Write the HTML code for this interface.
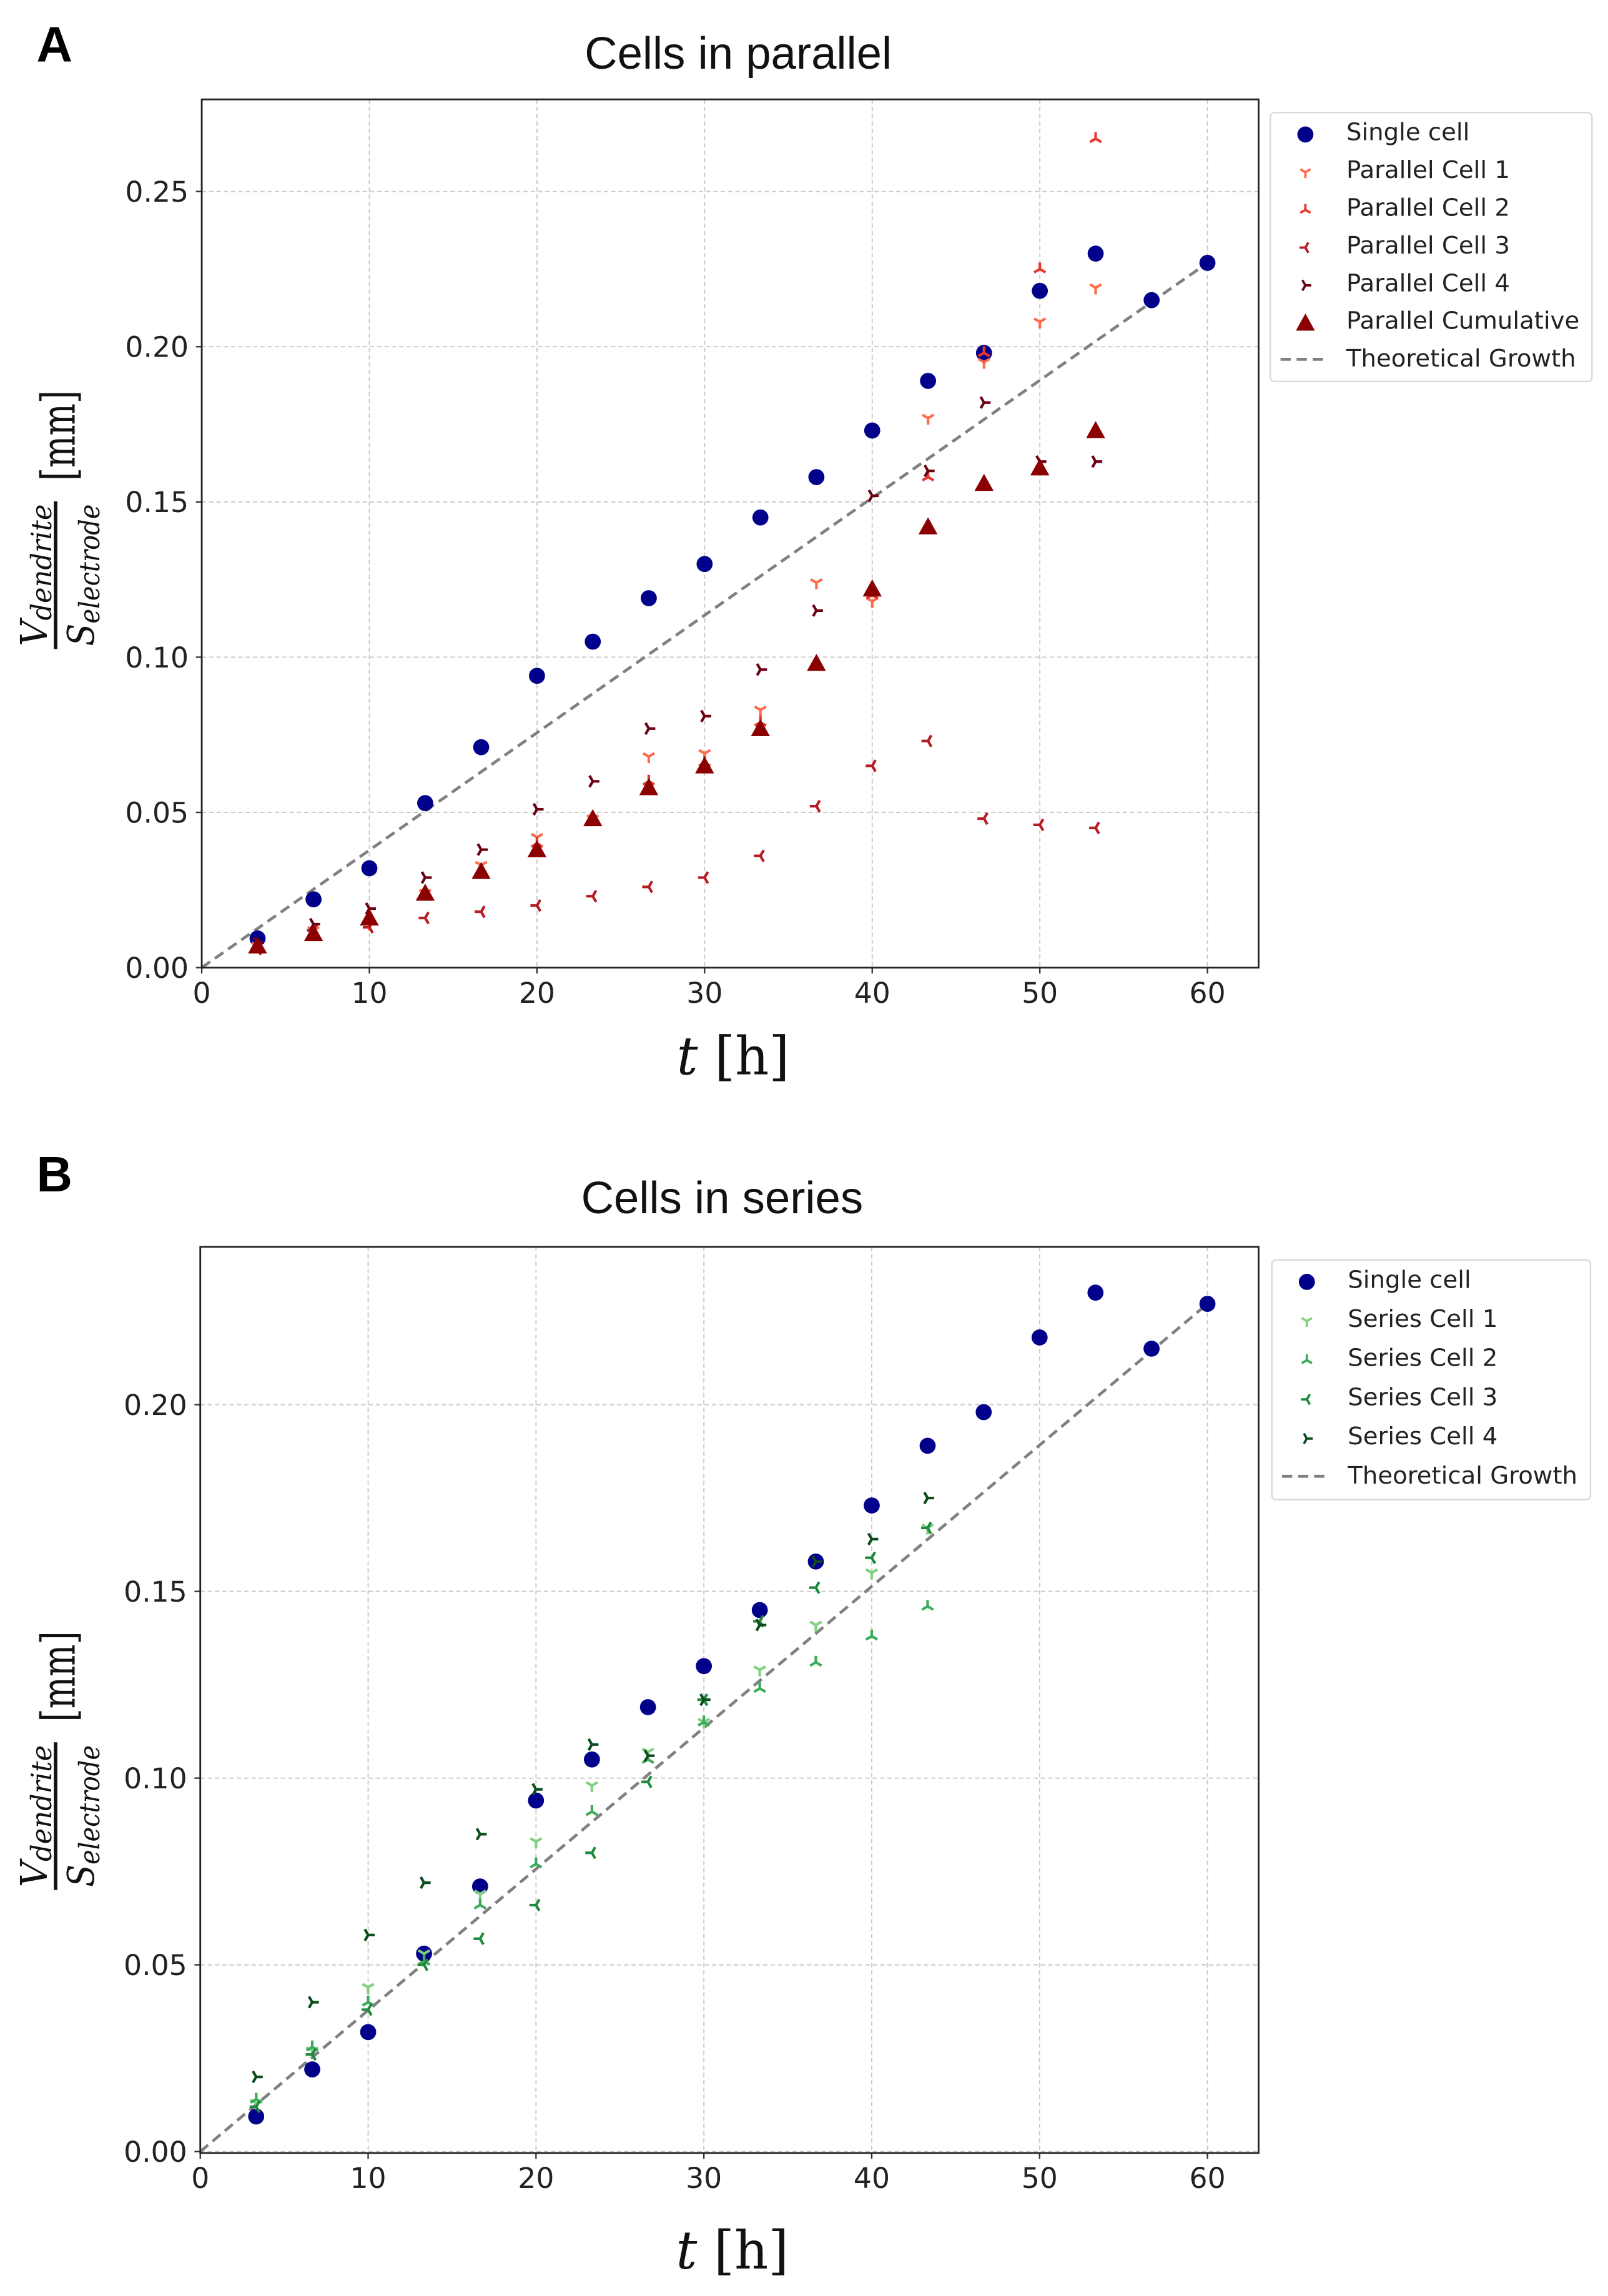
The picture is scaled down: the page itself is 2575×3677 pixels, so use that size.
<!DOCTYPE html>
<html><head><meta charset="utf-8">
<style>
html,body{margin:0;padding:0;background:#fff;}
svg{display:block;}
.tick{font-family:"DejaVu Sans","Liberation Sans",sans-serif;font-size:19.5px;fill:#222;}
.leg{font-family:"DejaVu Sans","Liberation Sans",sans-serif;font-size:16.5px;fill:#222;}
.title{font-family:"Liberation Sans",sans-serif;font-size:31px;fill:#111;}
.serif{font-family:"DejaVu Serif","Liberation Serif",serif;fill:#111;}
</style></head>
<body>
<svg id="fig" width="2575" height="3677" viewBox="0 0 1100 1570.8" xmlns="http://www.w3.org/2000/svg">
<rect width="1100" height="1571" fill="#fff"/>
<text x="25" y="42" font-family="Liberation Sans,sans-serif" font-weight="bold" font-size="34">A</text>
<text x="25" y="815" font-family="Liberation Sans,sans-serif" font-weight="bold" font-size="34">B</text>
<text class="title" x="505" y="47" text-anchor="middle">Cells in parallel</text>
<text class="title" x="494" y="830" text-anchor="middle">Cells in series</text>
<g id="pa"></g>
<g id="pb"></g>
</svg>
<script>
const times = [3.33,6.67,10,13.33,16.67,20,23.33,26.67,30,33.33,36.67,40,43.33,46.67,50,53.33,56.67,60];
const singleCell = [0.0094,0.022,0.032,0.053,0.071,0.094,0.105,0.119,0.130,0.145,0.158,0.173,0.189,0.198,0.218,0.230,0.215,0.227];
const parCell1 = [0.007,0.012,0.014,0.024,0.033,0.042,0.048,0.068,0.069,0.083,0.124,0.118,0.177,0.195,0.208,0.219];
const parCell2 = [0.007,0.011,0.016,0.024,0.031,0.040,0.047,0.060,0.066,0.079,0.098,0.120,0.158,0.198,0.225,0.267];
const parCell3 = [0.006,0.012,0.013,0.016,0.018,0.020,0.023,0.026,0.029,0.036,0.052,0.065,0.073,0.048,0.046,0.045];
const parCell4 = [0.008,0.014,0.019,0.029,0.038,0.051,0.060,0.077,0.081,0.096,0.115,0.152,0.160,0.182,0.163,0.163];
const parCumulative = [0.007,0.011,0.016,0.024,0.031,0.038,0.048,0.058,0.065,0.077,0.098,0.122,0.142,0.156,0.161,0.173];
const serCell1 = [0.013,0.027,0.044,0.053,0.069,0.083,0.098,0.107,0.115,0.129,0.141,0.155,0.167];
const serCell2 = [0.014,0.028,0.040,0.051,0.066,0.077,0.091,0.105,0.115,0.124,0.131,0.138,0.146];
const serCell3 = [0.012,0.026,0.038,0.050,0.057,0.066,0.080,0.099,0.121,0.142,0.151,0.159,0.167];
const serCell4 = [0.020,0.040,0.058,0.072,0.085,0.097,0.109,0.106,0.121,0.141,0.158,0.164,0.175];
const theoryX = [0,60];
const theoryY = [0,0.227];
const xTicks = [0,10,20,30,40,50,60];
const yTicksA = [0,0.05,0.10,0.15,0.20,0.25];
const yTicksB = [0,0.05,0.10,0.15,0.20];

const NS="http://www.w3.org/2000/svg";
function mk(parent,tag,attrs,text){const e=document.createElementNS(NS,tag);for(const k in attrs)e.setAttribute(k,attrs[k]);if(text!==undefined)e.textContent=text;parent.appendChild(e);return e;}

function marker(g,type,cx,cy,color,scale){
  const s=scale||1;
  let e;
  if(type==='o'){e=mk(g,'circle',{cx:cx,cy:cy,r:5.5*s,fill:color});}
  else if(type==='^'){const h=6.5*s;e=mk(g,'polygon',{points:`${cx},${cy-h} ${cx+h},${cy+h*0.8} ${cx-h},${cy+h*0.8}`,fill:color});}
  else{
    const L=4.5*s;let angs;
    if(type==='1')angs=[90,210,330];else if(type==='2')angs=[270,30,150];else if(type==='3')angs=[180,300,60];else angs=[0,120,240];
    let d='';angs.forEach(a=>{const r=a*Math.PI/180;d+=`M${cx},${cy}L${cx+L*Math.cos(r)},${cy+L*Math.sin(r)}`;});
    e=mk(g,'path',{d:d,stroke:color,'stroke-width':1.8*s,fill:'none'});
  }
  return e;
}

function panel(g,o){
  const X=v=>o.x0+(v/60)*(o.x60-o.x0);
  const Y=v=>o.y0-v*o.ky;
  mk(g,'rect',{x:o.L,y:o.T,width:o.R-o.L,height:o.B-o.T,fill:'#fff'});
  xTicks.forEach(t=>{
    const gl=mk(g,'line',{x1:X(t),x2:X(t),y1:o.T,y2:o.B,stroke:'#c8c8c8','stroke-width':0.8,'stroke-dasharray':'3,2'});
    
    
    mk(g,'line',{x1:X(t),x2:X(t),y1:o.B,y2:o.B+4,stroke:'#333'});
    const tl=mk(g,'text',{x:X(t),y:o.B+24,'text-anchor':'middle',class:'tick'},String(t));
    
    
  });
  o.yt.forEach(t=>{
    const gl=mk(g,'line',{x1:o.L,x2:o.R,y1:Y(t),y2:Y(t),stroke:'#c8c8c8','stroke-width':0.8,'stroke-dasharray':'3,2'});
    
    
    mk(g,'line',{x1:o.L-4,x2:o.L,y1:Y(t),y2:Y(t),stroke:'#333'});
    const tl=mk(g,'text',{x:o.L-9,y:Y(t)+7,'text-anchor':'end',class:'tick'},t.toFixed(2));
    
    
  });
  const th=mk(g,'line',{x1:X(theoryX[0]),y1:Y(theoryY[0]),x2:X(theoryX[1]),y2:Y(theoryY[1]),stroke:'#808080','stroke-width':2,'stroke-dasharray':'7,4'});
  
  
  o.series.forEach(s=>{
    const sg=mk(g,'g',{});
    
    
    s.data.forEach((v,i)=>{
      const m=marker(sg,s.type,X(times[i]),Y(v),s.color);
      
      
    });
  });
  mk(g,'rect',{x:o.L,y:o.T,width:o.R-o.L,height:o.B-o.T,fill:'none',stroke:'#222','stroke-width':1.2});
  const lg=mk(g,'g',{});
  
  
  mk(lg,'rect',{x:o.lx,y:o.ly,width:o.lw,height:o.lh,rx:3,fill:'#fff',stroke:'#d8d8d8','stroke-width':1});
  const items=o.series.concat([{label:'Theoretical Growth',type:'line'}]);
  items.forEach((s,i)=>{
    const yy=o.ly+13+i*o.lstep;
    const en=mk(lg,'g',{});
    
    
    if(s.type==='line')mk(en,'line',{x1:o.lx+7,x2:o.lx+40,y1:yy+1,y2:yy+1,stroke:'#808080','stroke-width':2,'stroke-dasharray':'7,4'});
    else marker(en,s.type,o.lx+24,yy+2,s.color,s.type==='o'||s.type==='^'?1:0.9);
    mk(en,'text',{x:o.lx+52,y:yy+6,class:'leg'},s.label);
  });
  const xl=mk(g,'text',{x:(o.L+o.R)/2+2,y:o.xlY,'text-anchor':'middle',class:'serif','font-size':36});
  
  
  mk(xl,'tspan',{'font-style':'italic'},'t');
  mk(xl,'tspan',{},' [h]');
  const yl=mk(g,'g',{transform:`translate(38,${o.ylB}) rotate(-90)`});
  
  
  mk(yl,'line',{x1:0,x2:101,y1:0,y2:0,stroke:'#111','stroke-width':2.4});
  const nu=mk(yl,'text',{x:2,y:-6,class:'serif','font-style':'italic','font-size':25,'textLength':97,'lengthAdjust':'spacingAndGlyphs'});
  mk(nu,'tspan',{},'V');
  mk(nu,'tspan',{'font-size':19,dy:3},'dendrite');
  const de=mk(yl,'text',{x:2,y:26,class:'serif','font-style':'italic','font-size':25,'textLength':97,'lengthAdjust':'spacingAndGlyphs'});
  mk(de,'tspan',{},'S');
  mk(de,'tspan',{'font-size':19,dy:4},'electrode');
  mk(yl,'text',{x:115,y:13,class:'serif','font-size':32,'textLength':62,'lengthAdjust':'spacingAndGlyphs'},'[mm]');
}

panel(document.getElementById('pa'),{L:138,R:861,T:68,B:662,x0:138,x60:826,y0:662,ky:2124,yt:yTicksA,
  lx:869,ly:77,lw:220,lh:184,lstep:25.8,xlY:735,ylB:444,
  series:[
    {name:'single-cell',label:'Single cell',type:'o',color:'#00008b',data:singleCell},
    {name:'parallel-cell-1',label:'Parallel Cell 1',type:'1',color:'#ff6a4d',data:parCell1},
    {name:'parallel-cell-2',label:'Parallel Cell 2',type:'2',color:'#e8392a',data:parCell2},
    {name:'parallel-cell-3',label:'Parallel Cell 3',type:'3',color:'#b81c24',data:parCell3},
    {name:'parallel-cell-4',label:'Parallel Cell 4',type:'4',color:'#6b0012',data:parCell4},
    {name:'parallel-cumulative',label:'Parallel Cumulative',type:'^',color:'#8b0000',data:parCumulative}
  ]});
panel(document.getElementById('pb'),{L:137,R:861,T:853,B:1473,x0:137,x60:826,y0:1472,ky:2555,yt:yTicksB,
  lx:870,ly:862,lw:218,lh:164,lstep:26.8,xlY:1552,ylB:1293,
  series:[
    {name:'single-cell',label:'Single cell',type:'o',color:'#00008b',data:singleCell},
    {name:'series-cell-1',label:'Series Cell 1',type:'1',color:'#7fd17f',data:serCell1},
    {name:'series-cell-2',label:'Series Cell 2',type:'2',color:'#3cab5a',data:serCell2},
    {name:'series-cell-3',label:'Series Cell 3',type:'3',color:'#1f8a3c',data:serCell3},
    {name:'series-cell-4',label:'Series Cell 4',type:'4',color:'#0b4d1e',data:serCell4}
  ]});
</script>
</body></html>
